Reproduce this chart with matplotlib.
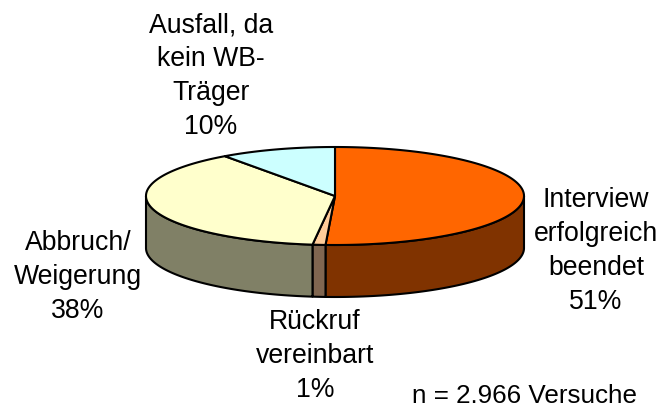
import numpy as np
import matplotlib
matplotlib.use("Agg")
import matplotlib.pyplot as plt
from matplotlib.patches import Polygon

plt.rcParams['font.family'] = ['Liberation Sans', 'DejaVu Sans']

labels = ["Interview\nerfolgreich\nbeendet\n51%", "Rückruf\nvereinbart\n1%", "Abbruch/\nWeigerung\n38%", "Ausfall, da\nkein WB-\nTräger\n10%"]
values = [50.8, 1.1, 38.2, 9.9]
top_colors = ["#FF6600", "#FFCC99", "#FFFFCC", "#CCFFFF"]
side_colors = ["#803300", "#806650", "#808066", "#668080"]
label_pos = [(596, 251), (315, 356), (78, 277), (211, 76)]
note = "n = 2.966 Versuche"

W, H = 661, 407
fig = plt.figure(figsize=(W / 100, H / 100), dpi=100)
ax = fig.add_axes([0, 0, 1, 1])
ax.set_xlim(0, W)
ax.set_ylim(H, 0)
ax.axis("off")

cx, cy, rx, ry, depth = 335, 196, 189, 49, 52
fr = np.cumsum([0] + values) / sum(values)
# clockwise from 12 o'clock
def pts(a0, a1, n=200):
    t = np.linspace(a0, a1, n) * 2 * np.pi
    return cx + rx * np.sin(t), cy - ry * np.cos(t)

lw = 1.5
# side walls (lower half of the ellipse only)
for i in range(len(values)):
    a0, a1 = max(fr[i], 0.25), min(fr[i + 1], 0.75)
    if a1 <= a0:
        continue
    x, y = pts(a0, a1)
    poly = np.r_[np.c_[x, y], np.c_[x[::-1], y[::-1] + depth]]
    ax.add_patch(Polygon(poly, closed=True, fc=side_colors[i], ec="black", lw=lw, joinstyle="round", zorder=2))
# top faces
for i in range(len(values)):
    x, y = pts(fr[i], fr[i + 1])
    poly = np.r_[[[cx, cy]], np.c_[x, y]]
    ax.add_patch(Polygon(poly, closed=True, fc=top_colors[i], ec="black", lw=lw, joinstyle="round", zorder=3))

for s, (x, y) in zip(labels, label_pos):
    ax.text(x, y, s, ha="center", va="center", fontsize=19.2, linespacing=1.39, color="black")
ax.text(525, 396, note, ha="center", va="center", fontsize=18.7, color="black")
fig.savefig("out.png", dpi=100)
